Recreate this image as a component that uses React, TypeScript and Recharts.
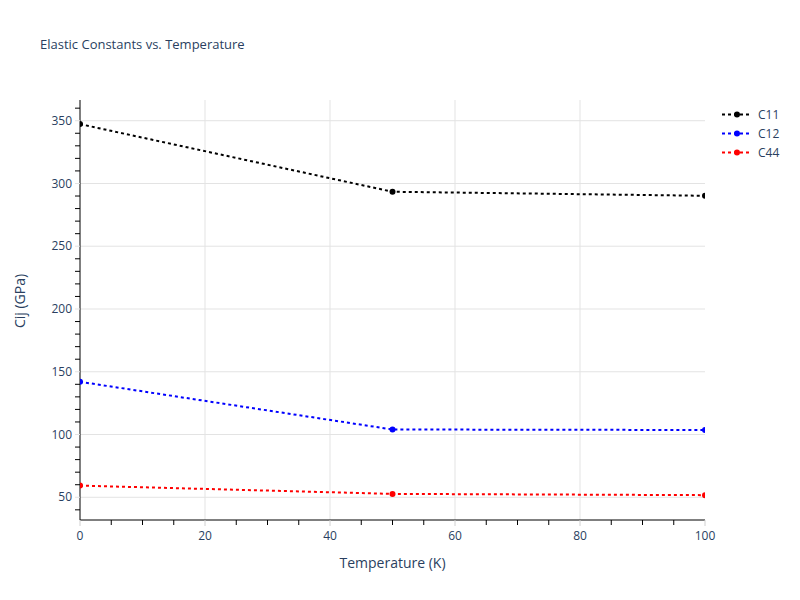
import React from "react";
import {
  LineChart,
  Line,
  XAxis,
  YAxis,
  Legend,
  ReferenceLine,
} from "recharts";

const temperatures = [0, 50, 100];
const c11 = [347.3, 293.4, 290.2];
const c12 = [142.0, 104.0, 103.6];
const c44 = [59.3, 52.7, 51.7];

const xTicks = [0, 5, 10, 15, 20, 25, 30, 35, 40, 45, 50, 55, 60, 65, 70, 75, 80, 85, 90, 95, 100];
const yTicks = [40, 50, 60, 70, 80, 90, 100, 110, 120, 130, 140, 150, 160, 170, 180, 190, 200, 210, 220, 230, 240, 250, 260, 270, 280, 290, 300, 310, 320, 330, 340, 350, 360];
const xGrid = [20, 40, 60, 80];
const yGrid = [50, 100, 150, 200, 250, 300, 350];

const series = [
  { key: "C11", values: c11, color: "#000000" },
  { key: "C12", values: c12, color: "#0000ff" },
  { key: "C44", values: c44, color: "#ff0000" },
];

const data = temperatures.map((t, i) => ({
  temperature: t,
  C11: c11[i],
  C12: c12[i],
  C44: c44[i],
}));

const FONT = "'Open Sans', verdana, arial, sans-serif";
const TEXT = "#2a3f5f";
const GRID = "#e3e3e3";

function YTick(props: any) {
  const { x, y, payload } = props;
  const major = payload.value % 50 === 0;
  return (
    <g>
      <line x1={x - 5} x2={x} y1={y} y2={y} stroke={major ? GRID : "#000"} strokeWidth={1} />
      {major && (
        <text x={x - 8} y={y} dy="0.35em" textAnchor="end" fontSize={12} fontFamily={FONT} fill={TEXT}>
          {payload.value}
        </text>
      )}
    </g>
  );
}

function XTick(props: any) {
  const { x, y, payload } = props;
  const major = payload.value % 20 === 0;
  return (
    <g>
      <line x1={x} x2={x} y1={y} y2={y + (major ? 6 : 5)} stroke={major ? "#d0d0d0" : "#000"} strokeWidth={1} />
      {major && (
        <text x={x} y={y + 20} textAnchor="middle" fontSize={12} fontFamily={FONT} fill={TEXT}>
          {payload.value}
        </text>
      )}
    </g>
  );
}

function YTitle(props: any) {
  const { viewBox } = props;
  const cx = viewBox.x + 20;
  const cy = viewBox.y + viewBox.height / 2 - 9;
  return (
    <text
      x={cx}
      y={cy}
      dy="0.35em"
      textAnchor="middle"
      transform={`rotate(-90, ${cx}, ${cy})`}
      fontSize={14}
      fontFamily={FONT}
      fill={TEXT}
    >
      Cij (GPa)
    </text>
  );
}

function LegendContent(props: any) {
  const { payload } = props;
  return (
    <div style={{ fontFamily: FONT }}>
      {(payload || []).map((item: any) => (
        <div key={item.value} style={{ display: "flex", alignItems: "center", height: 19 }}>
          <svg width={38} height={19}>
            <line x1={2} x2={30} y1={9.5} y2={9.5} stroke={item.color} strokeWidth={2} strokeDasharray="3 3" />
            <circle cx={17} cy={9.5} r={3} fill={item.color} />
          </svg>
          <span style={{ fontSize: 12, color: TEXT }}>{item.value}</span>
        </div>
      ))}
    </div>
  );
}

export default function App() {
  return (
    <div style={{ position: "absolute", left: 0, top: 0, width: 800, height: 600, background: "#fff" }}>
      <div
        style={{
          position: "absolute",
          left: 40,
          top: 38,
          fontSize: 13,
          lineHeight: "13px",
          fontFamily: FONT,
          color: TEXT,
          whiteSpace: "nowrap",
        }}
      >
        Elastic Constants vs. Temperature
      </div>
      <LineChart
        width={800}
        height={600}
        data={data}
        margin={{ top: 100, right: 95, bottom: 0, left: 0 }}
      >
        {yGrid.map((v) => (
          <ReferenceLine key={`gy${v}`} y={v} stroke={GRID} strokeWidth={1} />
        ))}
        {xGrid.map((v) => (
          <ReferenceLine key={`gx${v}`} x={v} stroke={GRID} strokeWidth={1} />
        ))}
        <XAxis
          dataKey="temperature"
          type="number"
          domain={[0, 100]}
          ticks={xTicks}
          interval={0}
          height={80}
          tickSize={0}
          tickMargin={0}
          tickLine={false}
          tick={<XTick />}
          axisLine={{ stroke: "#000", strokeWidth: 1 }}
          allowDataOverflow
          label={{
            value: "Temperature (K)",
            position: "insideBottom",
            offset: 32,
            fontSize: 14,
            fontFamily: FONT,
            fill: TEXT,
          }}
        />
        <YAxis
          type="number"
          domain={[31.9, 366.5]}
          ticks={yTicks}
          interval={0}
          width={80}
          tickSize={0}
          tickMargin={0}
          tickLine={false}
          tick={<YTick />}
          axisLine={{ stroke: "#000", strokeWidth: 1 }}
          allowDataOverflow
          label={<YTitle />}
        />
        <Legend
          layout="vertical"
          align="center"
          verticalAlign="middle"
          content={<LegendContent />}
          wrapperStyle={{ left: 720, top: 104.5, width: 80, height: 60 }}
        />
        {series.map((s) => (
          <Line
            key={s.key}
            type="linear"
            dataKey={s.key}
            name={s.key}
            stroke={s.color}
            strokeWidth={2}
            strokeDasharray="3 3"
            dot={{ r: 3, fill: s.color, stroke: s.color, strokeWidth: 0 }}
            activeDot={false}
            isAnimationActive={false}
          />
        ))}
      </LineChart>
    </div>
  );
}
